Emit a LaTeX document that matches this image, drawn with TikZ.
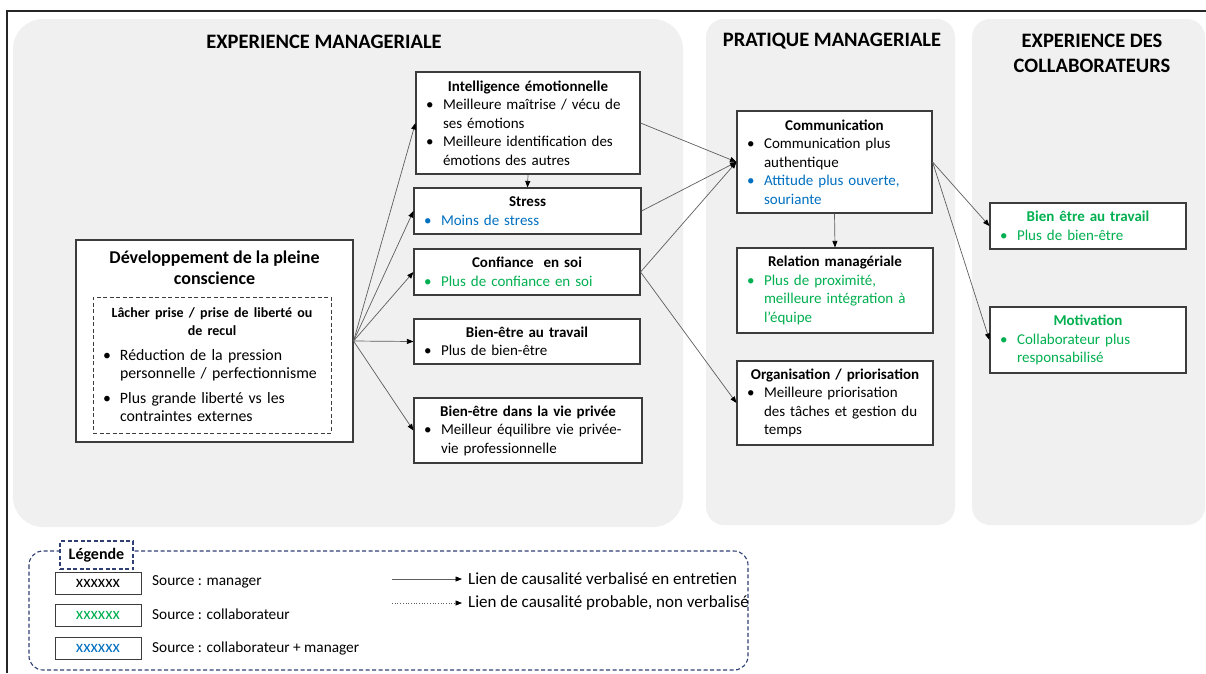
\documentclass[tikz,border=0pt]{standalone}
\usepackage{fontspec}
\setmainfont{Carlito}
\usetikzlibrary{arrows.meta}

\definecolor{panelgray}{HTML}{F0F0F0}
\definecolor{edgegray}{HTML}{3C3C3C}
\definecolor{linkgray}{HTML}{5E5E5E}
\definecolor{srcgreen}{HTML}{00B050}
\definecolor{srcblue}{HTML}{0070C0}
\definecolor{legnavy}{HTML}{2F3F73}

% bullet item with hanging indent; optional argument = colour of bullet and text
\newcommand{\bitem}[2][black]{\par{\color{#1}\noindent\hangindent=21pt\hangafter=1\makebox[21pt][l]{\hspace{4pt}•}#2\par}}
\newcommand{\btitle}[1]{{\centering\bfseries #1\par}}

\tikzset{
  panelbox/.style={fill=panelgray, draw=none, inner sep=0pt},
  paneltitle/.style={font=\fontsize{20.5}{25}\selectfont\bfseries, align=center, inner sep=0pt},
  box/.style={draw=edgegray, line width=1.1pt, fill=white, inner xsep=6pt, inner ysep=0pt,
              font=\fontsize{15}{18.5}\selectfont, align=left},
  lacherbox/.style={draw=edgegray, line width=0.9pt, dash pattern=on 4pt off 2.5pt, fill=white,
              inner xsep=6pt, inner ysep=0pt, font=\fontsize{15.8}{18}\selectfont, align=left},
  link/.style={draw=linkgray, line width=0.7pt, -{Triangle[length=6.5pt,width=5pt,color=black]}},
  legframe/.style={draw=legnavy, line width=1.1pt, dash pattern=on 4pt off 2.5pt},
  legsample/.style={draw=edgegray, line width=1pt, fill=white, minimum width=86pt, minimum height=22pt,
              inner sep=0pt, font=\fontsize{17}{18}\selectfont},
  legtext/.style={anchor=west, inner sep=0pt, font=\fontsize{15.3}{17}\selectfont},
  legtextb/.style={anchor=west, inner sep=0pt, font=\fontsize{17}{19}\selectfont},
}

\begin{document}
\begin{tikzpicture}[x=1pt, y=-1pt]
\useasboundingbox (0,0) rectangle (1206,673);

% page frame (top and left rules)
\draw[line width=1.3pt, black!85] (7,673) -- (7,11) -- (1206,11);

% background panels
\node[panelbox, rounded corners=30pt, minimum width=670pt, minimum height=508pt] (pexp) at (348,273) {};
\node[panelbox, rounded corners=18pt, minimum width=249pt, minimum height=506pt] (ppra) at (830.5,272) {};
\node[panelbox, rounded corners=18pt, minimum width=233pt, minimum height=506pt] (pcol) at (1088.5,272) {};

\node[paneltitle] (texp) at (324,42) {EXPERIENCE MANAGERIALE};
\node[paneltitle] (tpra) at (832,41) {PRATIQUE MANAGERIALE};
\node[paneltitle] (tcol) at (1092,53) {EXPERIENCE DES\\COLLABORATEURS};

% mindfulness development
\node[draw=edgegray, line width=1.1pt, fill=white, minimum width=277pt, minimum height=202pt, inner sep=0pt] (dev) at (214.5,341) {};
\node[font=\fontsize{18}{21}\selectfont\bfseries, align=center, inner sep=0pt] (devtitle) at (214.5,268)
  {Développement de la pleine\\conscience};
\node[lacherbox, text width=226pt, minimum height=136pt] (lacher) at (212,365) {%
  {\centering\fontsize{14}{18}\selectfont\bfseries Lâcher prise / prise de liberté ou\\de recul\par}
  \vspace{7pt}
  \bitem{Réduction de la pression\newline personnelle / perfectionnisme}
  \vspace{7pt}
  \bitem{Plus grande liberté vs les\newline contraintes externes}};

% managerial experience
\node[box, text width=212pt, minimum height=102pt] (intel) at (528,123) {%
  \btitle{Intelligence émotionnelle}
  \bitem{Meilleure maîtrise / vécu de\newline ses émotions}
  \bitem{Meilleure identification des\newline émotions des autres}};
\node[box, text width=215pt, minimum height=46pt] (stress) at (527.5,211) {%
  \btitle{Stress}
  \bitem[srcblue]{Moins de stress}};
\node[box, text width=214pt, minimum height=46pt] (confiance) at (527,272) {%
  \btitle{Confiance~ en soi}
  \bitem[srcgreen]{Plus de confiance en soi}};
\node[box, text width=214pt, minimum height=45pt] (bientrav) at (527,341.5) {%
  \btitle{Bien-être au travail}
  \bitem{Plus de bien-être}};
\node[box, text width=216pt, minimum height=65pt] (bienprive) at (528,430.5) {%
  \btitle{Bien-être dans la vie privée}
  \bitem{Meilleur équilibre vie privée-\newline vie professionnelle}};

% managerial practice
\node[box, text width=183pt, minimum height=102pt] (comm) at (834.5,162) {%
  \btitle{Communication}
  \bitem{Communication plus\newline authentique}
  \bitem[srcblue]{Attitude plus ouverte,\newline souriante}};
\node[box, text width=184pt, minimum height=85pt] (relation) at (835,290.5) {%
  \btitle{Relation managériale}
  \bitem[srcgreen]{Plus de proximité,\newline meilleure intégration à\newline l’équipe}};
\node[box, text width=184pt, minimum height=84pt] (orga) at (835,403) {%
  \btitle{Organisation / priorisation}
  \bitem{Meilleure priorisation\newline des tâches et gestion du\newline temps}};

% collaborators' experience
\node[box, text width=184pt, minimum height=46pt] (bcol) at (1088,226) {%
  {\centering\bfseries\color{srcgreen}Bien être au travail\par}
  \bitem[srcgreen]{Plus de bien-être}};
\node[box, text width=184pt, minimum height=66pt] (motiv) at (1088,340) {%
  {\centering\bfseries\color{srcgreen}Motivation\par}
  \bitem[srcgreen]{Collaborateur plus\newline responsabilisé}};

% causal links
\foreach \t in {intel,stress,confiance,bientrav,bienprive}
  \draw[link] (dev.east) -- (\t.west);
\draw[link] (intel.south) -- (stress.north);
\foreach \s in {intel,stress,confiance}
  \draw[link] (\s.east) -- (comm.west);
\draw[link] (confiance.east) -- (orga.west);
\draw[link] (comm.south) -- (relation.north);
\draw[link] (comm.east) -- (bcol.west);
\draw[link] (comm.east) -- (motiv.west);

% legend
\draw[legframe, rounded corners=14pt] (29,551) rectangle (748,670);
\node[legframe, fill=white, minimum width=73pt, minimum height=28pt, inner sep=0pt,
      font=\fontsize{16}{18}\selectfont\bfseries] (legtitle) at (96.5,555) {Légende};
\node[legsample] (smgr) at (98,583) {xxxxxx};
\node[legsample, text=srcgreen] (scol) at (98,615.5) {xxxxxx};
\node[legsample, text=srcblue] (sboth) at (98,648.5) {xxxxxx};
\node[legtext] (lmgr) at (152,582) {Source : manager};
\node[legtext] (lcol) at (152,614) {Source : collaborateur};
\node[legtext] (lboth) at (152,648) {Source : collaborateur + manager};
\coordinate (a1) at (392,579);
\coordinate (b1) at (462,579);
\coordinate (a2) at (392,603);
\coordinate (b2) at (462,603);
\draw[link] (a1) -- (b1);
\draw[link, dotted] (a2) -- (b2);
\node[legtextb] (lverb) at (468,579) {Lien de causalité verbalisé en entretien};
\node[legtextb] (lprob) at (468,603) {Lien de causalité probable, non verbalisé};
\end{tikzpicture}
\end{document}
